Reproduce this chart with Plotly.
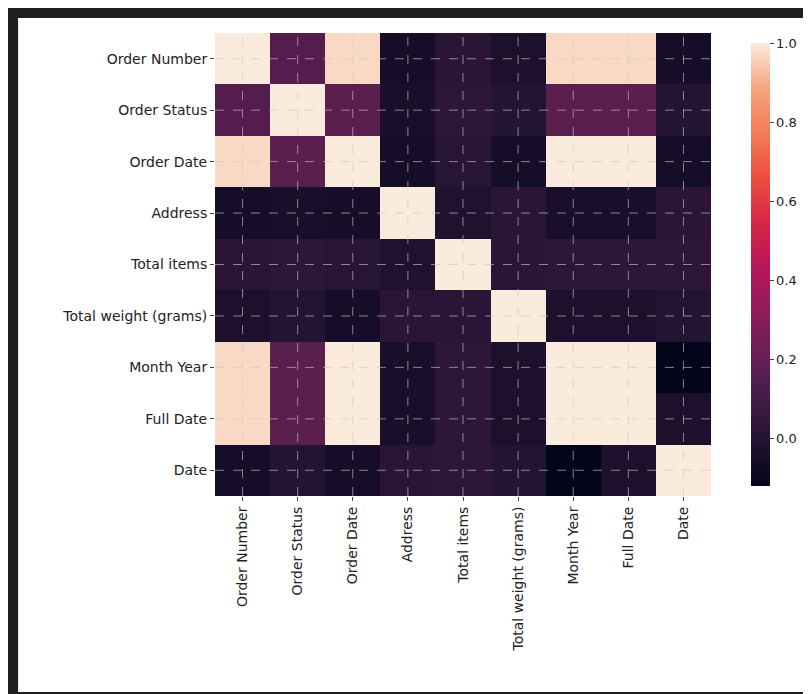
import plotly.graph_objects as go

labels = ["Order Number", "Order Status", "Order Date", "Address", "Total items",
          "Total weight (grams)", "Month Year", "Full Date", "Date"]

corr = [
    [1.00, 0.15, 0.97, -0.05, 0.02, -0.03, 0.97, 0.97, -0.05],
    [0.15, 1.00, 0.17, -0.04, 0.03, 0.00, 0.17, 0.17, 0.00],
    [0.97, 0.17, 1.00, -0.05, 0.01, -0.05, 1.00, 1.00, -0.05],
    [-0.05, -0.04, -0.05, 1.00, -0.02, 0.02, -0.04, -0.04, 0.02],
    [0.02, 0.03, 0.01, -0.02, 1.00, 0.02, 0.03, 0.03, 0.03],
    [-0.03, 0.00, -0.05, 0.02, 0.02, 1.00, -0.03, -0.03, 0.00],
    [0.97, 0.17, 1.00, -0.04, 0.03, -0.03, 1.00, 1.00, -0.12],
    [0.97, 0.17, 1.00, -0.04, 0.03, -0.03, 1.00, 1.00, -0.03],
    [-0.05, 0.00, -0.05, 0.02, 0.03, 0.00, -0.12, -0.03, 1.00],
]

rocket = [
    [0.0, "#03051A"], [0.1, "#221331"], [0.2, "#451C47"], [0.3, "#691F55"],
    [0.4, "#921C5B"], [0.5, "#B91657"], [0.6, "#D92847"], [0.7, "#ED503E"],
    [0.8, "#F47D57"], [0.9, "#F6A47E"], [1.0, "#FAEBDD"],
]

fig = go.Figure(go.Heatmap(
    z=corr, x=labels, y=labels, colorscale=rocket, zmin=-0.12, zmax=1.0,
    colorbar=dict(x=1.0605, xanchor="left", thickness=19, len=1, lenmode="fraction",
                  y=0.5, outlinewidth=0, tickvals=[0, 0.2, 0.4, 0.6, 0.8, 1.0],
                  ticktext=["0.0", "0.2", "0.4", "0.6", "0.8", "1.0"],
                  ticks="outside", ticklen=4, tickfont=dict(size=13)),
))

shapes = [dict(type="rect", xref="paper", yref="paper", x0=-0.397, x1=1.1976,
               y0=-0.4233, y1=1.0324, fillcolor="white", line_width=0, layer="below")]
for i in range(len(labels)):
    shapes.append(dict(type="line", xref="x", yref="paper", x0=i, x1=i, y0=0, y1=1,
                       line=dict(color="rgba(200,200,200,0.8)", width=0.8, dash="dash")))
    shapes.append(dict(type="line", xref="paper", yref="y", x0=0, x1=1, y0=i, y1=i,
                       line=dict(color="rgba(200,200,200,0.8)", width=0.8, dash="dash")))

fig.update_layout(
    width=811, height=694,
    margin=dict(l=207, r=108, t=25, b=206),
    paper_bgcolor="#1f1f1f", plot_bgcolor="white",
    font=dict(family="DejaVu Sans", size=14, color="#222"),
    shapes=shapes,
    xaxis=dict(tickangle=-90, ticks="outside", ticklen=4, showgrid=False),
    yaxis=dict(autorange="reversed", ticks="outside", ticklen=4, showgrid=False),
)

fig.write_html("out.html")
